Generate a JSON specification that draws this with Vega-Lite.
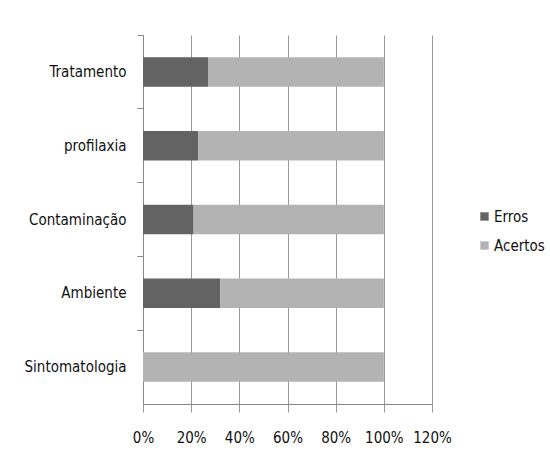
{
  "$schema": "https://vega.github.io/schema/vega-lite/v6.json",
  "width": 289,
  "height": 369,
  "autosize": {"type": "none"},
  "padding": {"left": 143, "top": 35, "right": 118, "bottom": 55},
  "background": "white",
  "config": {
    "font": "DejaVu Sans Condensed",
    "view": {"stroke": null}
  },
  "data": {
    "values": [
      {"categoria": "Tratamento", "serie": "Erros", "valor": 0.27, "ordem": 1},
      {"categoria": "Tratamento", "serie": "Acertos", "valor": 0.73, "ordem": 2},
      {"categoria": "profilaxia", "serie": "Erros", "valor": 0.23, "ordem": 1},
      {"categoria": "profilaxia", "serie": "Acertos", "valor": 0.77, "ordem": 2},
      {"categoria": "Contaminação", "serie": "Erros", "valor": 0.21, "ordem": 1},
      {"categoria": "Contaminação", "serie": "Acertos", "valor": 0.79, "ordem": 2},
      {"categoria": "Ambiente", "serie": "Erros", "valor": 0.32, "ordem": 1},
      {"categoria": "Ambiente", "serie": "Acertos", "valor": 0.68, "ordem": 2},
      {"categoria": "Sintomatologia", "serie": "Erros", "valor": 0.0, "ordem": 1},
      {"categoria": "Sintomatologia", "serie": "Acertos", "valor": 1.0, "ordem": 2}
    ]
  },
  "mark": {"type": "bar", "height": {"band": 0.4}},
  "encoding": {
    "y": {
      "field": "categoria",
      "type": "nominal",
      "sort": ["Tratamento", "profilaxia", "Contaminação", "Ambiente", "Sintomatologia"],
      "scale": {"paddingInner": 0, "paddingOuter": 0},
      "axis": {
        "title": null,
        "bandPosition": 0,
        "tickSize": 6,
        "tickColor": "#888888",
        "domainColor": "#888888",
        "labelPadding": 11,
        "labelFontSize": 15,
        "labelColor": "#111111",
        "labelOverlap": false,
        "grid": false
      }
    },
    "x": {
      "field": "valor",
      "type": "quantitative",
      "stack": "zero",
      "scale": {"domain": [0, 1.2], "nice": false},
      "axis": {
        "title": null,
        "values": [0, 0.2, 0.4, 0.6, 0.8, 1.0, 1.2],
        "format": ".0%",
        "grid": true,
        "gridColor": "#999999",
        "tickSize": 8,
        "tickColor": "#999999",
        "domainColor": "#888888",
        "labelPadding": 18,
        "labelFontSize": 15,
        "labelColor": "#111111",
        "labelOverlap": false,
        "labelBound": false,
        "labelFlush": false
      }
    },
    "color": {
      "field": "serie",
      "type": "nominal",
      "scale": {"domain": ["Erros", "Acertos"], "range": ["#636363", "#b3b3b3"]},
      "legend": {
        "title": null,
        "orient": "none",
        "legendX": 334,
        "legendY": 174,
        "symbolType": "square",
        "symbolSize": 70,
        "symbolStrokeWidth": 0,
        "labelFontSize": 15,
        "labelColor": "#111111",
        "rowPadding": 13,
        "labelOffset": 2
      }
    },
    "order": {"field": "ordem", "type": "quantitative"}
  }
}
